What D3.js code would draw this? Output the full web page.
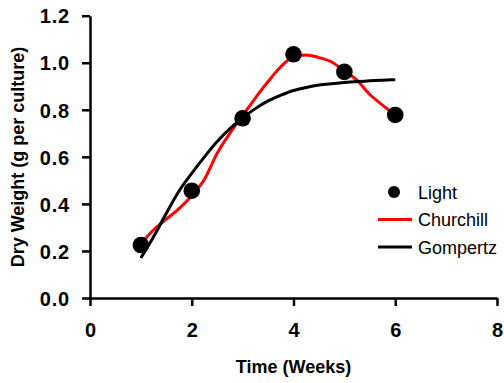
<!DOCTYPE html>
<html>
<head>
<meta charset="utf-8">
<script src="https://cdn.jsdelivr.net/npm/d3@7"></script>
<style>
  body { margin: 0; background: #fff; }
  svg text { font-family: "Liberation Sans", Arial, sans-serif; }
</style>
</head>
<body>
<svg id="chart" width="504" height="383"></svg>
<script>
// observed data (Light) and the two fitted curves
const weeks = [1, 2, 3, 4, 5, 6]
const light = [0.225, 0.456, 0.764, 1.036, 0.961, 0.778]

const fitWeeks = [1, 1.25, 1.5, 1.75, 2, 2.25, 2.5, 2.75, 3, 3.25, 3.5, 3.75,
                  4, 4.25, 4.5, 4.75, 5, 5.25, 5.5, 5.75, 6]
const churchill = [0.23, 0.29, 0.335, 0.38, 0.435, 0.505, 0.615, 0.70, 0.775, 0.85, 0.92, 0.983,
                   1.025, 1.033, 1.022, 1.003, 0.965, 0.925, 0.865, 0.82, 0.778]
const gompertz = [0.17, 0.26, 0.36, 0.455, 0.53, 0.60, 0.665, 0.72, 0.765, 0.805, 0.838, 0.862,
                  0.882, 0.895, 0.905, 0.911, 0.916, 0.92, 0.923, 0.926, 0.928]

const xTicks = [0, 2, 4, 6, 8]
const yTicks = [0, 0.2, 0.4, 0.6, 0.8, 1.0, 1.2]

const legendItems = [
  {name: "Light", kind: "dot", color: "#000"},
  {name: "Churchill", kind: "line", color: "#ff0000"},
  {name: "Gompertz", kind: "line", color: "#000"}
]

// frame
let svg = d3.select('#chart')
let x = d3.scaleLinear().domain([0, 8]).range([90, 497])
let y = d3.scaleLinear().domain([0, 1.2]).range([298, 15.7])

// axes
let xAxis = svg.append('g')
  .attr('transform', 'translate(0,298)')
  .call(d3.axisBottom(x).tickValues(xTicks).tickSize(8).tickSizeOuter(0).tickPadding(17))
let yAxis = svg.append('g')
  .attr('transform', 'translate(90,0)')
  .call(d3.axisLeft(y).tickValues(yTicks).tickSize(8).tickSizeOuter(0).tickPadding(12)
          .tickFormat(d3.format('.1f')))

svg.selectAll('.domain, .tick line')
   .attr('stroke', '#000')
   .attr('stroke-width', 2.5)
svg.selectAll('.tick text')
   .attr('font-family', '"Liberation Sans", Arial, sans-serif')
   .attr('font-size', 20)
   .attr('font-weight', 'bold')
   .attr('fill', '#000')
yAxis.selectAll('.tick text').attr('letter-spacing', 0.8).attr('dy', '0.36em')

// axis titles
svg.append('text')
   .attr('x', x(4))
   .attr('y', 373)
   .attr('text-anchor', 'middle')
   .attr('font-size', 18)
   .attr('font-weight', 'bold')
   .text('Time (Weeks)')

svg.append('text')
   .attr('transform', 'translate(24,157) rotate(-90)')
   .attr('text-anchor', 'middle')
   .attr('font-size', 18)
   .attr('font-weight', 'bold')
   .text('Dry Weight (g per culture)')

// fitted curves
let line = (vals) => d3.line()
  .x((d, i) => x(fitWeeks[i]))
  .y(d => y(d))
  .curve(d3.curveMonotoneX)(vals)

svg.append('path')
   .attr('d', line(churchill))
   .attr('fill', 'none')
   .attr('stroke', '#ff0000')
   .attr('stroke-width', 3)

svg.append('path')
   .attr('d', line(gompertz))
   .attr('fill', 'none')
   .attr('stroke', '#000')
   .attr('stroke-width', 3)

// data points
svg.selectAll('.pt')
   .data(light)
   .enter()
   .append('circle')
   .attr('class', 'pt')
   .attr('cx', (d, i) => x(weeks[i]))
   .attr('cy', d => y(d))
   .attr('r', 8.3)
   .attr('fill', '#000')

// legend
let legend = svg.append('g').attr('transform', 'translate(378,192)')
legendItems.forEach(function(d, i) {
  let g = legend.append('g').attr('transform', 'translate(0,' + (i * 27.5) + ')')
  if (d.kind == 'dot') {
    g.append('circle').attr('cx', 16).attr('cy', 0).attr('r', 6).attr('fill', d.color)
  } else {
    g.append('line').attr('x1', 0).attr('x2', 34).attr('y1', 0).attr('y2', 0)
     .attr('stroke', d.color).attr('stroke-width', 3)
  }
  g.append('text')
   .attr('x', 40)
   .attr('y', 6.5)
   .attr('font-size', 18)
   .attr('fill', '#000')
   .text(d.name)
})
</script>
</body>
</html>
